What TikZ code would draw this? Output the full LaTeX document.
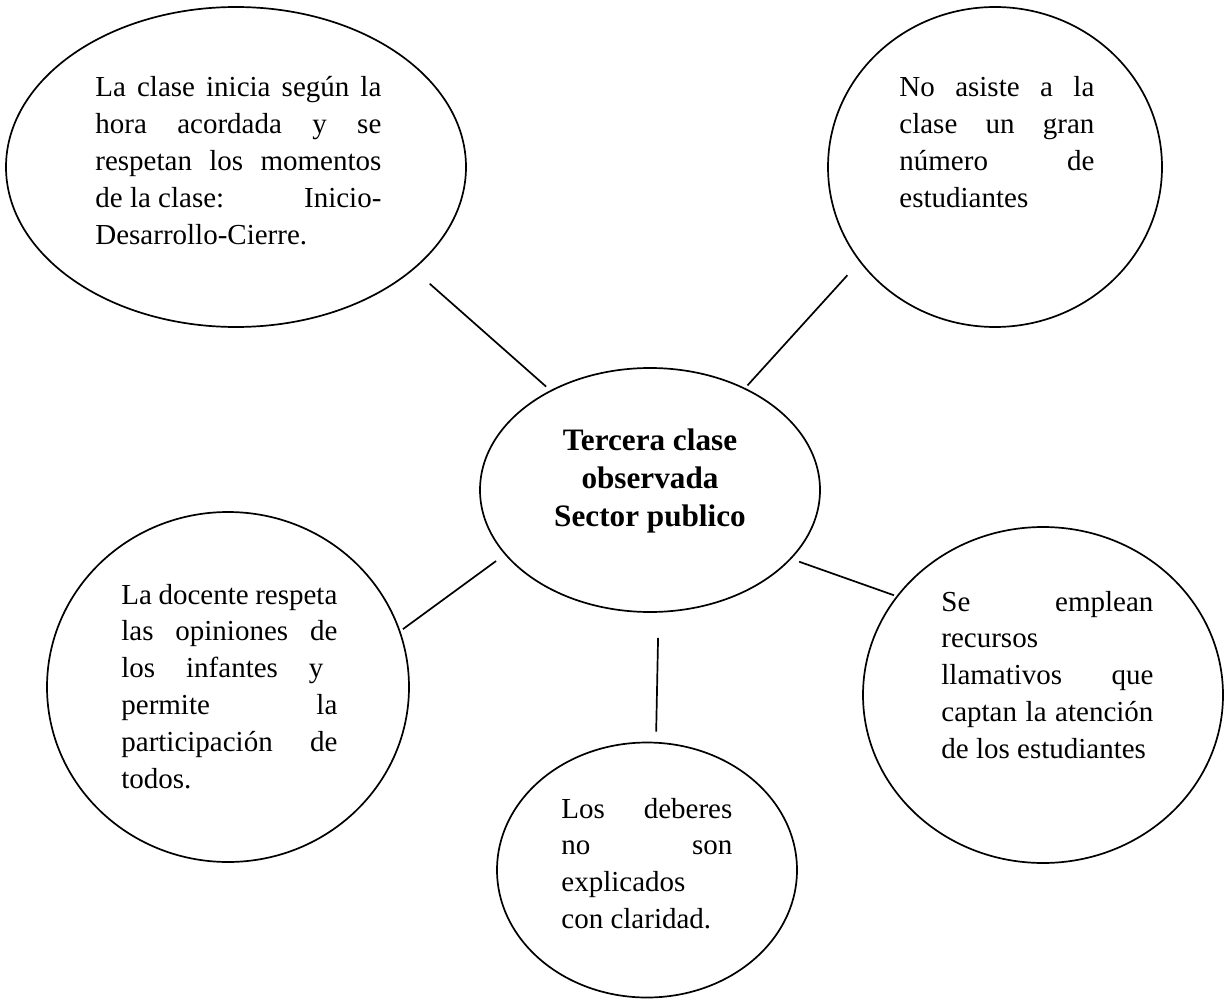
\documentclass[tikz,border=0pt]{standalone}
\usepackage{fontspec}
\setmainfont{Liberation Serif}
\usepackage{tikz}
\usetikzlibrary{shapes.geometric}
\usetikzlibrary{positioning}
\tolerance=10000
\hbadness=10000
\hyphenpenalty=10000
\tikzstyle{burbuja} = [ellipse, draw=black, line width=0.85pt, inner sep=0pt]
\tikzstyle{texto} = [anchor=base west, inner sep=0pt, align=justify, font=\fontsize{14.5}{18.4}\selectfont]
\tikzstyle{titulo} = [inner sep=0pt, align=center, font=\fontsize{15.6}{19.2}\selectfont\bfseries]
\tikzstyle{linea} = [draw=black, line width=0.85pt]

\begin{document}
\begin{tikzpicture}[x=0.5pt, y=-0.5pt]
\useasboundingbox (0,0) rectangle (1225,1000);

% centro
\node (obs) [burbuja, minimum width=170pt, minimum height=122pt] at (650,490) {};
\node (obsT) [titulo] at (650,481) {Tercera clase\\observada\\Sector publico};

% burbujas
\node (el1) [burbuja, minimum width=230pt, minimum height=160pt] at (236,167) {};
\node (tx1) [texto, text width=143pt] at (95,97) {La clase inicia según la\linebreak
  hora acordada y se\linebreak respetan los momentos\linebreak
  de la clase:\hfill Inicio-\linebreak Desarrollo-Cierre.};

\node (el2) [burbuja, minimum width=167pt, minimum height=160pt] at (995,167) {};
\node (tx2) [texto, text width=97.5pt] at (899,97) {No asiste a la\linebreak
  clase un gran\linebreak número de\linebreak estudiantes};

\node (el3) [burbuja, minimum width=181pt, minimum height=175pt] at (228,687) {};
\node (tx3) [texto, text width=108pt] at (121,604) {La docente respeta\linebreak
  las opiniones de\linebreak los infantes y\hspace*{7pt}\linebreak
  permite la\linebreak participación de\linebreak todos.};

\node (el4) [burbuja, minimum width=180pt, minimum height=168pt] at (1043,695) {};
\node (tx4) [texto, text width=106pt] at (941,611) {Se emplean\linebreak
  recursos\linebreak llamativos que\linebreak captan la atención\linebreak
  de los estudiantes};

\node (el5) [burbuja, minimum width=150pt, minimum height=127.5pt] at (647,870) {};
\node (tx5) [texto, text width=85.5pt] at (561,818) {Los deberes\linebreak
  no son\linebreak explicados\linebreak con claridad.};

% lineas
\draw [linea, shorten <=2.75pt, shorten >=10.65pt] (obs.135) -- (el1.-30);
\draw [linea, shorten <=1.75pt, shorten >=9pt] (obs.47) -- (el2.215.6);
\draw [linea, shorten <=5.4pt, shorten >=1.6pt] (obs.204) -- (el3.18);
\draw [linea, shorten <=4.1pt, shorten >=1.3pt] (obs.-26.7) -- (el4.146.9);
\draw [linea, shorten <=12.6pt, shorten >=5.1pt] (obs.-86) -- (el5.86);
\end{tikzpicture}
\end{document}
